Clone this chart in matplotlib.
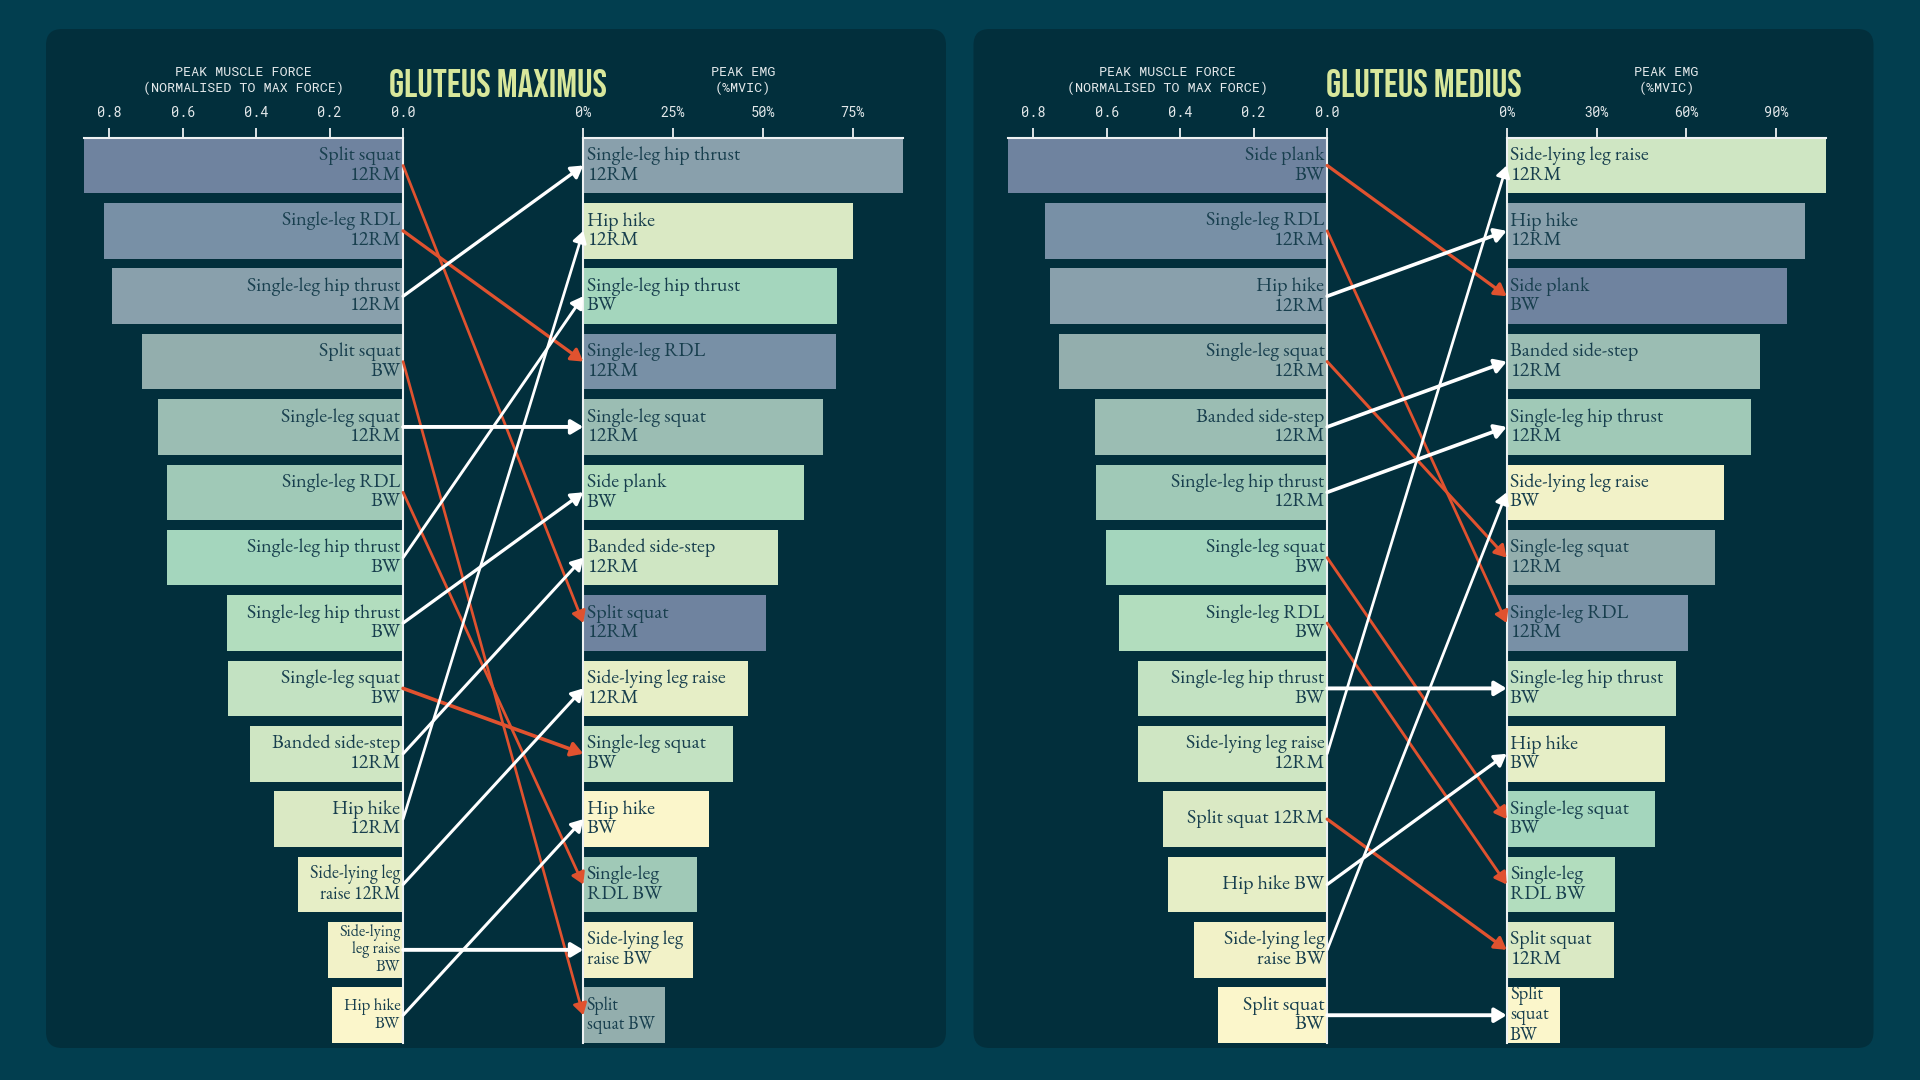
import numpy as np
import matplotlib
matplotlib.use("Agg")
import matplotlib.pyplot as plt
from matplotlib.patches import FancyBboxPatch, ConnectionPatch
from matplotlib.transforms import ScaledTranslation
from matplotlib.textpath import TextPath
from matplotlib.font_manager import FontProperties
from matplotlib import font_manager

# ---------------- data ----------------
gmax_exercises = ["Split squat 12RM", "Single-leg RDL 12RM", "Single-leg hip thrust 12RM",
                  "Split squat BW", "Single-leg squat 12RM", "Single-leg RDL BW",
                  "Single-leg hip thrust BW", "Side plank BW", "Single-leg squat BW",
                  "Banded side-step 12RM", "Hip hike 12RM", "Side-lying leg raise 12RM",
                  "Side-lying leg raise BW", "Hip hike BW"]
gmax_force = [0.870, 0.814, 0.793, 0.711, 0.667, 0.644, 0.642, 0.479, 0.477,
              0.416, 0.352, 0.285, 0.205, 0.194]
gmax_emg = [50.9, 70.5, 89.0, 22.7, 66.9, 31.8, 70.7, 61.5, 41.8, 54.1, 75.2, 45.8, 30.6, 35.1]
gmax_force_labels = ["Split squat\n12RM", "Single-leg RDL\n12RM", "Single-leg hip thrust\n12RM",
                     "Split squat\nBW", "Single-leg squat\n12RM", "Single-leg RDL\nBW",
                     "Single-leg hip thrust\nBW", "Single-leg hip thrust\nBW", "Single-leg squat\nBW",
                     "Banded side-step\n12RM", "Hip hike\n12RM", "Side-lying leg\nraise 12RM",
                     "Side-lying\nleg raise\nBW", "Hip hike\nBW"]
gmax_emg_labels = ["Split squat\n12RM", "Single-leg RDL\n12RM", "Single-leg hip thrust\n12RM",
                   "Split\nsquat BW", "Single-leg squat\n12RM", "Single-leg\nRDL BW",
                   "Single-leg hip thrust\nBW", "Side plank\nBW", "Single-leg squat\nBW",
                   "Banded side-step\n12RM", "Hip hike\n12RM", "Side-lying leg raise\n12RM",
                   "Side-lying leg\nraise BW", "Hip hike\nBW"]

gmed_exercises = ["Side plank BW", "Single-leg RDL 12RM", "Hip hike 12RM", "Single-leg squat 12RM",
                  "Banded side-step 12RM", "Single-leg hip thrust 12RM", "Single-leg squat BW",
                  "Single-leg RDL BW", "Single-leg hip thrust BW", "Side-lying leg raise 12RM",
                  "Split squat 12RM", "Hip hike BW", "Side-lying leg raise BW", "Split squat BW"]
gmed_force = [0.870, 0.768, 0.754, 0.730, 0.631, 0.629, 0.602, 0.568, 0.516, 0.514,
              0.448, 0.434, 0.363, 0.298]
gmed_emg = [93.7, 60.7, 99.7, 69.7, 84.7, 81.6, 49.6, 36.2, 56.6, 106.7, 36.0, 53.0, 72.6, 17.8]
gmed_force_labels = ["Side plank\nBW", "Single-leg RDL\n12RM", "Hip hike\n12RM", "Single-leg squat\n12RM",
                     "Banded side-step\n12RM", "Single-leg hip thrust\n12RM", "Single-leg squat\nBW",
                     "Single-leg RDL\nBW", "Single-leg hip thrust\nBW", "Side-lying leg raise\n12RM",
                     "Split squat 12RM", "Hip hike BW", "Side-lying leg\nraise BW", "Split squat\nBW"]
gmed_emg_labels = ["Side plank\nBW", "Single-leg RDL\n12RM", "Hip hike\n12RM", "Single-leg squat\n12RM",
                   "Banded side-step\n12RM", "Single-leg hip thrust\n12RM", "Single-leg squat\nBW",
                   "Single-leg\nRDL BW", "Single-leg hip thrust\nBW", "Side-lying leg raise\n12RM",
                   "Split squat\n12RM", "Hip hike\nBW", "Side-lying leg raise\nBW", "Split\nsquat\nBW"]

titles = ["GLUTEUS MAXIMUS", "GLUTEUS MEDIUS"]
force_header = "PEAK MUSCLE FORCE\n(NORMALISED TO MAX FORCE)"
emg_header = "PEAK EMG\n(%MVIC)"
force_ticks = [0.8, 0.6, 0.4, 0.2, 0.0]
gmax_emg_ticks = [0, 25, 50, 75]
gmed_emg_ticks = [0, 30, 60, 90]

# ---------------- fonts ----------------
AVAILABLE = {f.name for f in font_manager.fontManager.ttflist}


def pick(cands):
    for c in cands:
        if c in AVAILABLE:
            return c
    return cands[-1]


TITLE_FONT = pick(["Bebas Neue", "Oswald", "Barlow Condensed", "DejaVu Sans"])
SERIF = pick(["EB Garamond", "Cormorant Garamond", "Crimson Text", "Liberation Serif"])
MONO = pick(["Roboto Mono", "DM Mono", "IBM Plex Mono", "DejaVu Sans Mono"])

# ---------------- style ----------------
OUTER = "#023e4f"
PANEL = "#022f3c"
TEXT_DARK = "#183f4e"
SPINE = "#eef1f2"
TICKTXT = "#e4e9eb"
TITLE_C = "#d8e79b"
RED = "#e0522f"
WHITE = "#ffffff"
PALETTE = ["#6f839f", "#7890a6", "#89a0ac", "#93aead", "#9bbdb3", "#a0c9b7", "#a4d6bd",
           "#b2ddbe", "#c3e2c2", "#cfe6c3", "#dae9c4", "#e6eec6", "#f2f2c8", "#fbf6cb"]

W, H, DPI = 1920, 1080, 100
PX2PT = 72.0 / DPI


def em_extent(s, family, weight="normal"):
    return TextPath((0, 0), s, size=1, prop=FontProperties(family=family, weight=weight)).get_extents()


# label font size: "Single-leg hip thrust" about 152 px wide
LABEL_SIZE = 152.0 / em_extent("Single-leg hip thrust", SERIF).width * PX2PT
# title: cap height about 27 px
TITLE_SIZE = 27.0 / em_extent("H", TITLE_FONT, "bold").height * PX2PT

fig = plt.figure(figsize=(W / DPI, H / DPI), dpi=DPI)
fig.patch.set_facecolor(OUTER)
renderer = fig.canvas.get_renderer()


def line_gap(ls):
    t = fig.text(0, 0, "Hg\nHg", family=SERIF, fontsize=LABEL_SIZE, linespacing=ls)
    h2 = t.get_window_extent(renderer).height
    t.set_text("Hg")
    h1 = t.get_window_extent(renderer).height
    t.remove()
    return h2 - h1


g1, g2 = line_gap(1.0), line_gap(2.0)
LABEL_LS = 1.0 + (19.4 - g1) / (g2 - g1)  # baselines ~19.4 px apart

bg = fig.add_axes([0, 0, 1, 1], zorder=-10)
bg.set_xlim(0, W)
bg.set_ylim(H, 0)
bg.axis("off")
for x0 in (46, 973.5):
    bg.add_patch(FancyBboxPatch((x0, 29), 900, 1019, boxstyle="round,pad=0,rounding_size=16",
                                fc=PANEL, ec="none"))

AX_BOTTOM = (H - 1043) / H
AX_HEIGHT = (1043 - 137.7) / H
AX_W = 319.5 / W
panel_axes_x = [(83.6, 583.3), (1007.7, 1506.7)]
title_x = [498, 1424]

panels = [
    (gmax_exercises, gmax_force, gmax_emg, gmax_force_labels, gmax_emg_labels, gmax_emg_ticks),
    (gmed_exercises, gmed_force, gmed_emg, gmed_force_labels, gmed_emg_labels, gmed_emg_ticks),
]

pending_labels = []
arrow_specs = []

for p, (ex, force, emg, flabels, elabels, eticks) in enumerate(panels):
    n = len(ex)
    force = np.asarray(force)
    emg = np.asarray(emg)
    f_order = np.argsort(-force, kind="stable")
    e_order = np.argsort(-emg, kind="stable")
    pos_f = np.empty(n, int)
    pos_f[f_order] = np.arange(n)
    pos_e = np.empty(n, int)
    pos_e[e_order] = np.arange(n)
    colors = [PALETTE[pos_f[k]] for k in range(n)]

    xf, xe = panel_axes_x[p]
    axF = fig.add_axes([xf / W, AX_BOTTOM, AX_W, AX_HEIGHT])
    axE = fig.add_axes([xe / W, AX_BOTTOM, AX_W, AX_HEIGHT])

    for ax in (axF, axE):
        ax.set_facecolor("none")
        ax.set_ylim(n - 1 + 0.425, -0.425)
        ax.xaxis.set_ticks_position("top")
        ax.tick_params(axis="x", direction="out", length=7, width=1.3, color=SPINE,
                       pad=5.5, labelsize=9.8, labelcolor=TICKTXT, labelfontfamily=MONO)
        ax.tick_params(axis="y", left=False, right=False, labelleft=False, labelright=False)
        ax.spines["bottom"].set_visible(False)
        ax.spines["top"].set_color(SPINE)
        ax.spines["top"].set_linewidth(1.5)

    axF.spines["left"].set_visible(False)
    axF.spines["right"].set_color(SPINE)
    axF.spines["right"].set_linewidth(1.5)
    axE.spines["right"].set_visible(False)
    axE.spines["left"].set_color(SPINE)
    axE.spines["left"].set_linewidth(1.5)

    axF.barh(pos_f, force, height=0.85, color=colors, edgecolor="none", zorder=1)
    axE.barh(pos_e, emg, height=0.85, color=colors, edgecolor="none", zorder=1)
    axF.set_xlim(force.max(), 0)
    axE.set_xlim(0, emg.max())
    axF.set_xticks(force_ticks)
    axF.set_xticklabels([f"{t:.1f}" for t in force_ticks])
    axE.set_xticks(eticks)
    axE.set_xticklabels([f"{t}%" for t in eticks])

    offF = axF.transData + ScaledTranslation(-2.0 / 72, 0, fig.dpi_scale_trans)
    offE = axE.transData + ScaledTranslation(2.4 / 72, 0, fig.dpi_scale_trans)
    for k in range(n):
        t1 = axF.text(0, pos_f[k], flabels[k], ha="right", va="center", ma="right",
                      transform=offF, family=SERIF, fontsize=LABEL_SIZE, color=TEXT_DARK,
                      linespacing=LABEL_LS, zorder=3)
        t2 = axE.text(0, pos_e[k], elabels[k], ha="left", va="center", ma="left",
                      transform=offE, family=SERIF, fontsize=LABEL_SIZE, color=TEXT_DARK,
                      linespacing=LABEL_LS, zorder=3)
        pending_labels.append((t1, axF, force[k], pos_f[k]))
        pending_labels.append((t2, axE, emg[k], pos_e[k]))
        arrow_specs.append((axF, axE, pos_f[k], pos_e[k], WHITE if pos_e[k] <= pos_f[k] else RED))

    bF = axF.get_position()
    bE = axE.get_position()
    fig.text((bF.x0 + bF.x1) / 2, 1 - 80.6 / H, force_header, ha="center", va="center",
             ma="center", family=MONO, fontsize=9.6, color=TICKTXT, linespacing=1.25)
    fig.text((bE.x0 + bE.x1) / 2, 1 - 80.6 / H, emg_header, ha="center", va="center",
             ma="center", family=MONO, fontsize=9.6, color=TICKTXT, linespacing=1.25)
    fig.text(title_x[p] / W, 1 - 96.7 / H, titles[p], ha="center", va="baseline",
             family=TITLE_FONT, weight="bold", fontsize=TITLE_SIZE, color=TITLE_C)

# fit labels into their bars
fig.canvas.draw()
for t, ax, val, pos in pending_labels:
    p0 = ax.transData.transform((0, pos - 0.425))
    p1 = ax.transData.transform((val, pos + 0.425))
    bw = abs(p1[0] - p0[0])
    bh = abs(p1[1] - p0[1])
    bb = t.get_window_extent(renderer)
    s = min(LABEL_SIZE, LABEL_SIZE * (bw - 14) / bb.width, LABEL_SIZE * (bh - 2) / bb.height)
    t.set_fontsize(s)

# arrows
WH, WV = 2.8, 1.9  # stroke width (pt) for horizontal / vertical runs
for axF, axE, yf, ye, col in arrow_specs:
    pA = axF.transData.transform((0, yf))
    pB = axE.transData.transform((0, ye))
    d = pB - pA
    L = np.hypot(*d)
    c, s = d[0] / L, d[1] / L
    lw = 1.0 / np.sqrt((c / WH) ** 2 + (s / WV) ** 2)
    con = ConnectionPatch(xyA=(0, yf), coordsA=axF.transData, xyB=(0, ye), coordsB=axE.transData,
                          arrowstyle="-|>,head_length=0.5,head_width=0.3", mutation_scale=14,
                          color=col, lw=lw, shrinkA=0, shrinkB=0, zorder=6)
    fig.add_artist(con)

fig.savefig("out.png", dpi=DPI, facecolor=OUTER)
